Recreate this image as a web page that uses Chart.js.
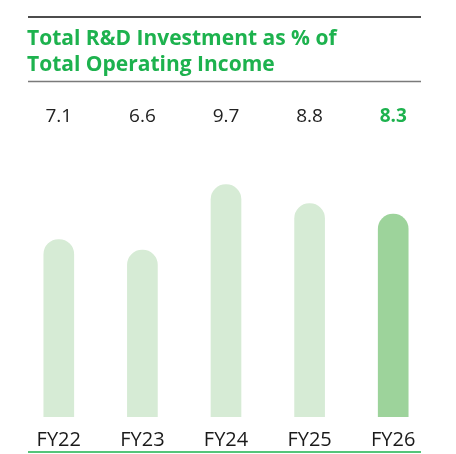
<!DOCTYPE html>
<html>
<head>
<meta charset="utf-8">
<script src="https://cdn.jsdelivr.net/npm/chart.js@4.4.1/dist/chart.umd.min.js"></script>
<style>
  html, body { margin: 0; padding: 0; background: #ffffff; }
  #wrap { position: relative; width: 456px; height: 454px; }
</style>
</head>
<body>
<div id="wrap"><canvas id="c" width="456" height="454"></canvas></div>
<script>
// ---- data ----
const categories = ["FY22", "FY23", "FY24", "FY25", "FY26"];
const values = [7.1, 6.6, 9.7, 8.8, 8.3];
const valueLabels = ["7.1", "6.6", "9.7", "8.8", "8.3"];
const titleLines = ["Total R&D Investment as % of", "Total Operating Income"];

// ---- style ----
const GREEN = "#1db24e";
const BAR_LIGHT = "#d6ebd5";
const BAR_HIGHLIGHT = "#9dd39b";
const FONT = "'Open Sans', Lato, sans-serif";
const Y_MIN = -1.3, Y_MAX = 10.2;

const decorPlugin = {
  id: "decor",
  afterDraw(chart) {
    const ctx = chart.ctx;
    ctx.save();
    // top black rule
    ctx.strokeStyle = "#111";
    ctx.lineWidth = 1.5;
    ctx.beginPath(); ctx.moveTo(28, 17); ctx.lineTo(421, 17); ctx.stroke();
    // title
    ctx.fillStyle = GREEN;
    ctx.font = "bold 21px " + FONT;
    ctx.textAlign = "left";
    ctx.textBaseline = "alphabetic";
    ctx.fillText(titleLines[0], 27, 44.5);
    ctx.fillText(titleLines[1], 27, 71);
    // gray rule
    ctx.strokeStyle = "#7a7a7a";
    ctx.lineWidth = 1.5;
    ctx.beginPath(); ctx.moveTo(28, 81.5); ctx.lineTo(421, 81.5); ctx.stroke();
    // value labels
    const meta = chart.getDatasetMeta(0);
    ctx.textAlign = "center";
    ctx.textBaseline = "middle";
    meta.data.forEach((bar, i) => {
      const last = i === values.length - 1;
      ctx.font = (last ? "bold " : "") + "19px " + FONT;
      ctx.fillStyle = last ? GREEN : "#222";
      ctx.fillText(valueLabels[i], bar.x, 117);
    });
    // bottom green rule
    ctx.strokeStyle = GREEN;
    ctx.lineWidth = 1.5;
    ctx.beginPath(); ctx.moveTo(28, 452); ctx.lineTo(421, 452); ctx.stroke();
    ctx.restore();
  }
};

new Chart(document.getElementById("c"), {
  type: "bar",
  data: {
    labels: categories,
    datasets: [{
      data: values,
      base: Y_MIN,
      backgroundColor: values.map((v, i) => i === values.length - 1 ? BAR_HIGHLIGHT : BAR_LIGHT),
      borderWidth: 0,
      borderSkipped: "bottom",
      borderRadius: { topLeft: 15, topRight: 15, bottomLeft: 0, bottomRight: 0 },
      barThickness: 30
    }]
  },
  options: {
    responsive: false,
    animation: false,
    devicePixelRatio: 1,
    layout: { padding: { top: 174, left: 17, right: 21, bottom: 0 } },
    plugins: { legend: { display: false }, title: { display: false }, tooltip: { enabled: false } },
    scales: {
      x: {
        grid: { display: false, drawTicks: false },
        border: { display: false },
        ticks: { color: "#1a1a1a", font: { family: FONT, size: 20 }, padding: 11 },
        afterFit(scale) { scale.height = 37; }
      },
      y: {
        display: false,
        min: Y_MIN,
        max: Y_MAX
      }
    }
  },
  plugins: [decorPlugin]
});
</script>
</body>
</html>
